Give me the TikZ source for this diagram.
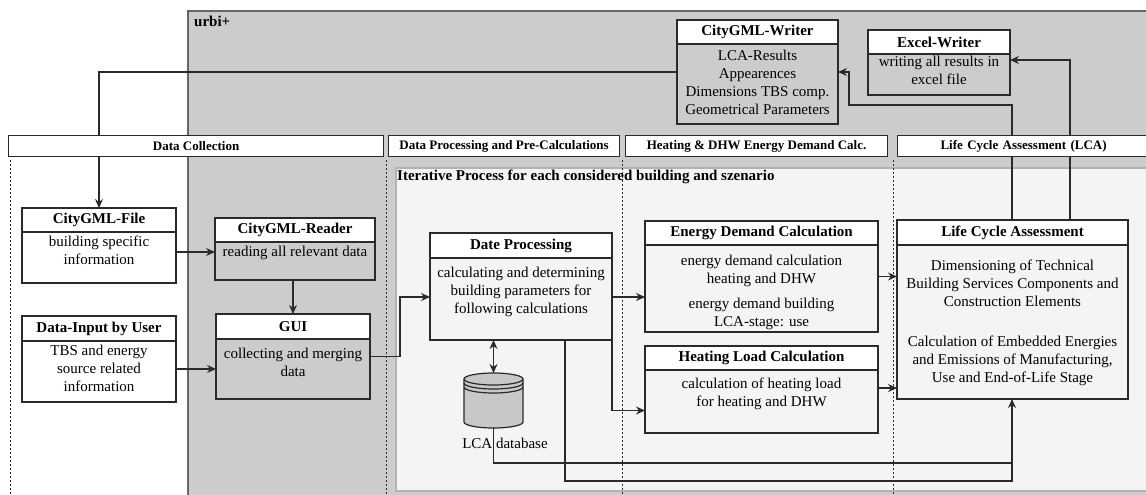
\documentclass[tikz,border=0pt]{standalone}
\usepackage{fontspec}
\setmainfont{Liberation Serif}
\usetikzlibrary{arrows.meta,calc}
\definecolor{bggray}{HTML}{CCCCCC}
\definecolor{itergray}{HTML}{F4F4F4}
\definecolor{ln}{HTML}{2A2A2A}
\definecolor{dbgray}{HTML}{C8C8C8}
\tikzset{
 frame/.style={draw=ln, line width=1.2pt},
 arr/.style={draw=ln, line width=1.2pt, -{Stealth[length=9pt,width=8pt]}},
 dblarr/.style={draw=ln, line width=1.2pt, {Stealth[length=9pt,width=8pt]}-{Stealth[length=9pt,width=8pt]}},
 conn/.style={draw=ln, line width=1.2pt},
 hdrbox/.style={draw=ln, fill=white, line width=1.2pt},
 lanehdr/.style={draw=ln, fill=white, line width=1.2pt, inner sep=0, anchor=north west, font=\fontsize{13}{15}\selectfont\bfseries},
 ttl/.style={font=\fontsize{15}{18}\selectfont\bfseries, inner sep=0},
 body/.style={font=\fontsize{15}{18}\selectfont, align=center, inner sep=0, anchor=north},
 sep/.style={draw=ln, line width=0.9pt, dash pattern=on 2pt off 2pt},
}
\newcommand\mkbox[7]{%
  \draw[hdrbox] (#2,#3) rectangle (#4,#6);
  \node[ttl] at ({(#2+#4)/2},{(#3+#6)/2}) {#7};
  \node[frame, inner sep=0, outer sep=0, anchor=north west, minimum width={(#4-#2)*1pt}, minimum height={(#5-#3)*1pt}] (#1) at (#2,#3) {};
}
\begin{document}
\begin{tikzpicture}[x=1pt,y=-1pt]
\useasboundingbox (0,0) rectangle (1146,495);
\fill[white] (0,0) rectangle (1146,495);
% urbi+ background
\draw[fill=bggray, draw=gray!80!black, line width=1.2pt] (188,11) rectangle (1160,510);
\node[ttl, anchor=west] (urbi) at (194,21) {urbi+};
% iterative process
\draw[fill=itergray, draw=gray!60, line width=1.2pt] (396,168) rectangle (1160,491);
\node[ttl, anchor=west] (iter) at (397,177) {Iterative Process for each considered building and szenario};

% boxes
\mkbox{cgf}{22}{208}{176}{283}{232}{CityGML-File}
\node[body] at (99,236) {building specific\\information};
\mkbox{dinp}{22}{316}{176}{402}{341}{Data-Input by User}
\node[body] at (99,345) {TBS and energy\\source related\\information};
\mkbox{reader}{215}{218}{375}{280}{242}{CityGML-Reader}
\node[body] at (295,246) {reading all relevant data};
\mkbox{gui}{216}{314}{370}{399}{339}{GUI}
\node[body] at (293,348) {collecting and merging\\data};
\mkbox{writer}{677}{20}{838}{124}{44}{CityGML-Writer}
\node[body] at (757.5,50) {LCA-Results\\Appearences\\Dimensions TBS comp.\\Geometrical Parameters};
\mkbox{excel}{868}{30}{1010}{95}{54}{Excel-Writer}
\node[body] at (939,56) {writing all results in\\excel file};
\mkbox{datep}{430}{233}{612}{340}{258}{Date Processing}
\node[body] at (521,267) {calculating and determining\\building parameters for\\following calculations};
\mkbox{energy}{645}{221}{878}{332}{245}{Energy Demand Calculation}
\node[body] at (761.5,255) {energy demand calculation\\heating and DHW\\[7pt]energy demand building\\LCA-stage: use};
\mkbox{heat}{645}{346}{878}{433}{370}{Heating Load Calculation}
\node[body] at (761.5,378) {calculation of heating load\\for heating and DHW};
\mkbox{lca}{897}{220}{1128}{399}{245}{Life Cycle Assessment}
\node[body] at (1012.5,260) {Dimensioning of Technical\\Building Services Components and\\Construction Elements\\[22pt]Calculation of Embedded Energies\\and Emissions of Manufacturing,\\Use and End-of-Life Stage};

% database cylinder
\fill[dbgray] (464,379) rectangle (523,422);
\fill[dbgray] (493.5,422) ellipse (29.5 and 6);
\draw[ln, line width=1.2pt] (464,379) -- (464,422) arc (180:0:29.5 and 6) -- (523,379);
\filldraw[fill=dbgray, draw=ln, line width=1.2pt] (493.5,379) ellipse (29.5 and 6);
\draw[ln, line width=1.2pt] (464,383) arc (180:0:29.5 and 6);
\draw[ln, line width=1.2pt] (464,387) arc (180:0:29.5 and 6);
\node[inner sep=0, outer sep=0, minimum width=59pt, minimum height=55pt] (db) at (493.5,400.5) {};
\node[font=\fontsize{15}{18}\selectfont, inner sep=0] (dblabel) at (505,443) {LCA database};

% helper coordinates
\coordinate (bx) at (400,0);
\coordinate (lw) at (1012,0);
\coordinate (lx) at (1070,0);
\coordinate (wb) at (849,105);
\coordinate (j1) at (1012,463);
\coordinate (j2) at (1012,481);
\coordinate (dx) at (565,0);

% connectors
\draw[arr] (writer.west) -| (cgf.north);
\draw[arr] ([yshift=-6.5pt]cgf.east) -- ([yshift=-6.5pt]cgf.east -| reader.west);
\draw[arr] ([yshift=-10pt]dinp.east) -- ([yshift=-10pt]dinp.east -| gui.west);
\draw[arr] (gui.north |- reader.south) -- (gui.north);
\draw[arr] (gui.east) -- (gui.east -| bx) |- ([yshift=-10.5pt]datep.west);
\draw[arr] ([yshift=-10.5pt]datep.east) -- ([yshift=-10.5pt]datep.east -| energy.west);
\draw[arr] ([yshift=-10.5pt]datep.east) |- ([yshift=-21pt]heat.west);
\draw[arr] (energy.east) -- (energy.east -| lca.west);
\draw[arr] ([yshift=1.5pt]heat.east) -- ([yshift=1.5pt]heat.east -| lca.west);
\draw[arr] (lca.north -| lw) |- (wb) |- (writer.east);
\draw[arr] (lca.north -| lx) |- ([yshift=2.5pt]excel.east);
\draw[dblarr] (db.north |- datep.south) -- (db.north);
\draw[conn] (db.south) |- (j1);
\draw[conn] (datep.south -| dx) |- (j2) -- (j1);
\draw[arr] (j1) -- (lca.south -| j1);

% lane headers
\node[lanehdr, minimum width=375pt, minimum height=21pt] (l1) at (8,135) {Data Collection};
\node[lanehdr, minimum width=231pt, minimum height=21pt] (l2) at (388,135) {Data Processing and Pre-Calculations};
\node[lanehdr, minimum width=262pt, minimum height=21pt] (l3) at (625,135) {Heating \& DHW Energy Demand Calc.};
\node[lanehdr, minimum width=252pt, minimum height=21pt, text width=248pt, align=center] (l4) at (897,135) {Life Cycle Assessment (LCA)};

% lane separators
\foreach \x in {10,386,622,893} \draw[sep] (\x,160) -- (\x,495);
\end{tikzpicture}
\end{document}
